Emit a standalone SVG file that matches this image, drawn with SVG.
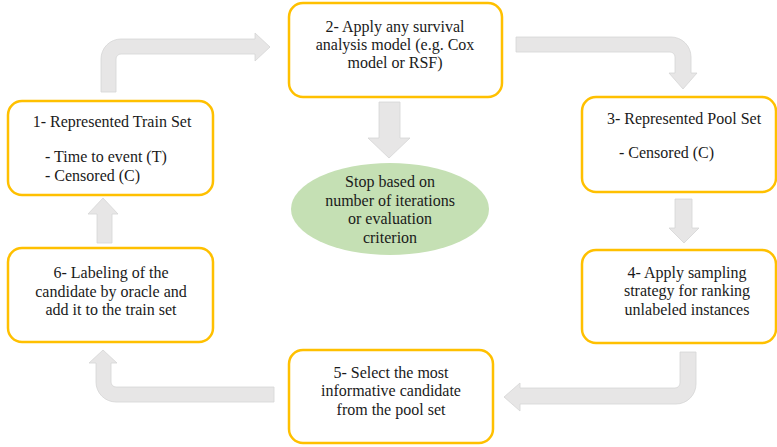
<svg xmlns="http://www.w3.org/2000/svg" width="777" height="447" viewBox="0 0 777 447">
<style>
.box{fill:#ffffff;stroke:#ffc000;stroke-width:2.5}
.arr{fill:#e7e6e6;stroke:#d6d6d6;stroke-width:0.8}
.c{text-anchor:middle}
text{font-family:"Liberation Serif","Times New Roman",serif;font-size:16px;fill:#1a1a1a}
</style>
<rect width="777" height="447" fill="#ffffff"/>
<g id="connectors">
<path class="arr" d="M101,92 L101,59 A20,20 0 0 1 121,39 L255,39 L255,33 L270,47 L255,61 L255,54 L121,54 A5,5 0 0 0 116,59 L116,92 Z"/>
<path class="arr" d="M516,37 L671,37 A20,20 0 0 1 691,57 L691,73 L697,73 L683,89 L669,73 L675,73 L675,57 A5,5 0 0 0 670,52 L516,52 Z"/>
<path class="arr" d="M379,102 L400,102 L400,138 L410,138 L389,158 L368,138 L379,138 Z"/>
<path class="arr" d="M675,199 L692,199 L692,228 L699,228 L684,243 L669,228 L675,228 Z"/>
<path class="arr" d="M680,352 L696,352 L696,384 A20,20 0 0 1 676,404 L520,404 L520,411 L504,397 L520,383 L520,388 L675,388 A5,5 0 0 0 680,383 Z"/>
<path class="arr" d="M274,387 L116,387 A5,5 0 0 1 111,382 L111,363 L117,363 L103,350 L89,363 L96,363 L96,382 A20,20 0 0 0 116,402 L274,402 Z"/>
<path class="arr" d="M97,243 L112,243 L112,214 L118,214 L103,198 L88,214 L97,214 Z"/>
</g>
<g id="node1">
<rect class="box" x="8" y="101" width="205" height="94" rx="14"/>
<text class="c" x="112" y="127">1- Represented Train Set</text>
<text x="45" y="162">- Time to event (T)</text>
<text x="45" y="181">- Censored (C)</text>
</g>
<g id="node2">
<rect class="box" x="289" y="3" width="213" height="94" rx="14"/>
<text class="c" x="395" y="32">2- Apply any survival</text>
<text class="c" x="395" y="50">analysis model (e.g. Cox</text>
<text class="c" x="395" y="68">model or RSF)</text>
</g>
<g id="node3">
<rect class="box" x="582" y="97" width="194" height="95" rx="14"/>
<text class="c" x="684" y="124">3- Represented Pool Set</text>
<text x="619" y="158">- Censored (C)</text>
</g>
<g id="node4">
<rect class="box" x="582" y="250" width="194" height="93" rx="14"/>
<text class="c" x="687" y="278">4- Apply sampling</text>
<text class="c" x="687" y="296">strategy for ranking</text>
<text class="c" x="687" y="315">unlabeled instances</text>
</g>
<g id="node5">
<rect class="box" x="289" y="350" width="204" height="93" rx="14"/>
<text class="c" x="391" y="378">5- Select the most</text>
<text class="c" x="391" y="396">informative candidate</text>
<text class="c" x="391" y="415">from the pool set</text>
</g>
<g id="node6">
<rect class="box" x="8" y="248" width="205" height="94" rx="14"/>
<text class="c" x="111" y="278">6- Labeling of the</text>
<text class="c" x="111" y="297">candidate by oracle and</text>
<text class="c" x="111" y="315">add it to the train set</text>
</g>
<g id="stop">
<ellipse cx="390" cy="209" rx="99" ry="46" fill="#c5e0b4"/>
<text class="c" x="390" y="187">Stop based on</text>
<text class="c" x="390" y="206">number of iterations</text>
<text class="c" x="390" y="224">or evaluation</text>
<text class="c" x="390" y="243">criterion</text>
</g>
</svg>
